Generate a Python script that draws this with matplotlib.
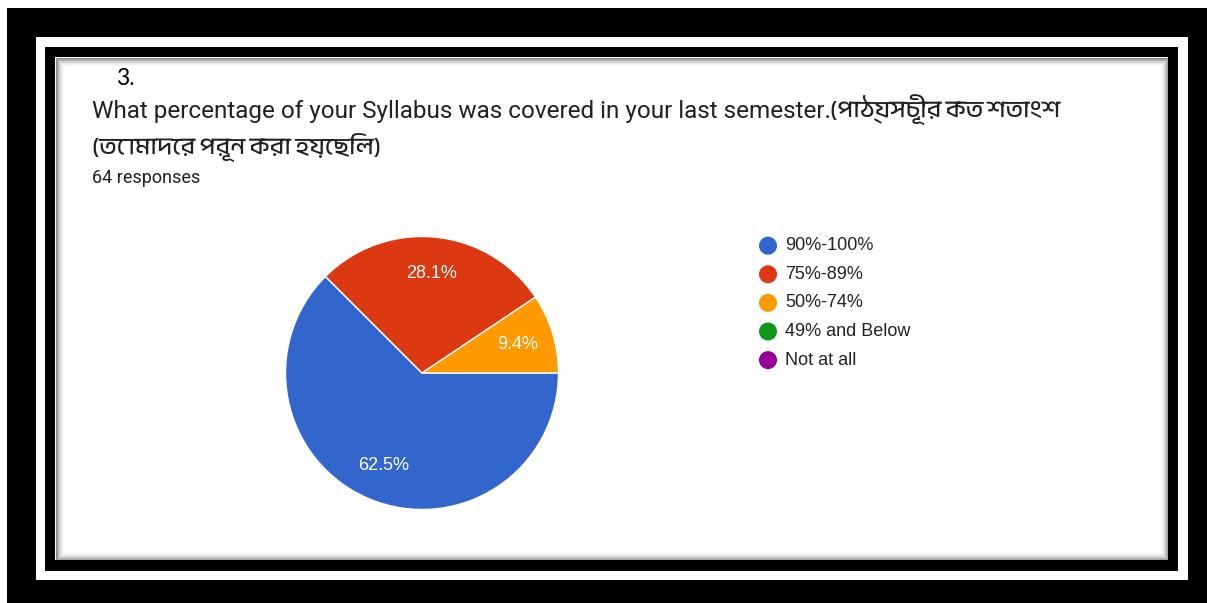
import matplotlib
matplotlib.use("Agg")
import matplotlib.pyplot as plt
from matplotlib.patches import Rectangle, Circle
from matplotlib import font_manager as fm
from matplotlib.ft2font import FT2Font

# ---------------- data ----------------
question_no = "3."
title_en = "What percentage of your Syllabus was covered in your last semester."
title_bn1 = "(পাঠ্যসূচীর কত শতাংশ"
title_bn2 = "(তোমাদের পূরন করা হয়েছিল)"
responses_text = "64 responses"
categories = ["90%-100%", "75%-89%", "50%-74%", "49% and Below", "Not at all"]
counts = [40, 18, 6, 0, 0]
colors = ["#3366CC", "#DC3912", "#FF9900", "#109618", "#990099"]

# ---------------- fonts ----------------
beng_font = None
cands = sorted(fm.fontManager.ttflist, key=lambda f: ("bengali" not in f.name.lower() and "bangla" not in f.name.lower()))
for f in cands:
    try:
        if 0x0995 in FT2Font(f.fname).get_charmap():
            beng_font = f.name
            break
    except Exception:
        pass
title_family = ["Roboto"] + ([beng_font] if beng_font else []) + ["DejaVu Sans"]
bn_family = ([beng_font] if beng_font else []) + ["Roboto", "DejaVu Sans"]

W, H = 1207, 603
fig = plt.figure(figsize=(W / 100, H / 100), dpi=100)
fig.patch.set_facecolor("white")
bg = fig.add_axes([0, 0, 1, 1])
bg.set_xlim(0, W)
bg.set_ylim(H, 0)
bg.axis("off")

# frames
bg.add_patch(Rectangle((7, 8), W - 7, H - 8, color="black", lw=0))
bg.add_patch(Rectangle((36, 37), 1152, 543, color="white", lw=0))
bg.add_patch(Rectangle((45, 47), 1133, 524, color="black", lw=0))
bg.add_patch(Rectangle((55, 57), 1113, 503, color="white", lw=0))
# inner shadow
for k in range(9):
    a = 0.45 * (1 - k / 9) ** 2
    bg.add_patch(Rectangle((55 + k + 0.5, 57 + k + 0.5), 1113 - 2 * k - 1, 503 - 2 * k - 1,
                           fill=False, edgecolor=(0, 0, 0, a), lw=0.75))

renderer = fig.canvas.get_renderer()


def fit_text(x, y, s, target_w, family, size0, color, **kw):
    t = bg.text(x, y, s, fontsize=size0, family=family, color=color, va="baseline", ha="left", **kw)
    w = t.get_window_extent(renderer).width
    if w > 0:
        t.set_fontsize(size0 * target_w / w)
    return t


bg.text(116, 85, question_no, fontsize=16.5, family=["Lato", "DejaVu Sans"], color="black", va="baseline")
t1 = fit_text(92, 118, title_en, 742, title_family, 16, "#202124")
fs = t1.get_fontsize()
x_end = 92 + t1.get_window_extent(renderer).width
bg.text(x_end - 1, 118, title_bn1, fontsize=fs, family=bn_family, color="#202124", va="baseline")
bg.text(92, 154, title_bn2, fontsize=fs, family=bn_family, color="#202124", va="baseline")
fit_text(92, 183, responses_text, 108, ["Roboto", "DejaVu Sans"], 12, "#202124")

# pie
cx, cy, r = 422, 373, 136.5
pax = fig.add_axes([(cx - r) / W, 1 - (cy + r) / H, 2 * r / W, 2 * r / H])
nz = [(c, col) for c, col in zip(counts, colors) if c > 0]
wedges, texts, autotexts = pax.pie(
    [c for c, _ in nz], colors=[col for _, col in nz], startangle=0, counterclock=False,
    autopct="%1.1f%%", pctdistance=0.73,
    wedgeprops=dict(edgecolor="white", linewidth=1.0),
    textprops=dict(color="white", fontsize=13, family=["Liberation Sans", "DejaVu Sans"]),
)
pax.set_xlim(-1, 1)
pax.set_ylim(-1, 1)
pax.set_aspect("equal")
pax.axis("off")

# legend
lx, ly0, dy = 768, 245.7, 28.6
for i, (cat, col) in enumerate(zip(categories, colors)):
    y = ly0 + i * dy
    bg.add_patch(Circle((lx, y), 9, color=col, lw=0))
    bg.text(785, y, cat, fontsize=13, family=["Liberation Sans", "DejaVu Sans"], color="#222222",
            va="center", ha="left")

fig.savefig("out.png", dpi=100)
